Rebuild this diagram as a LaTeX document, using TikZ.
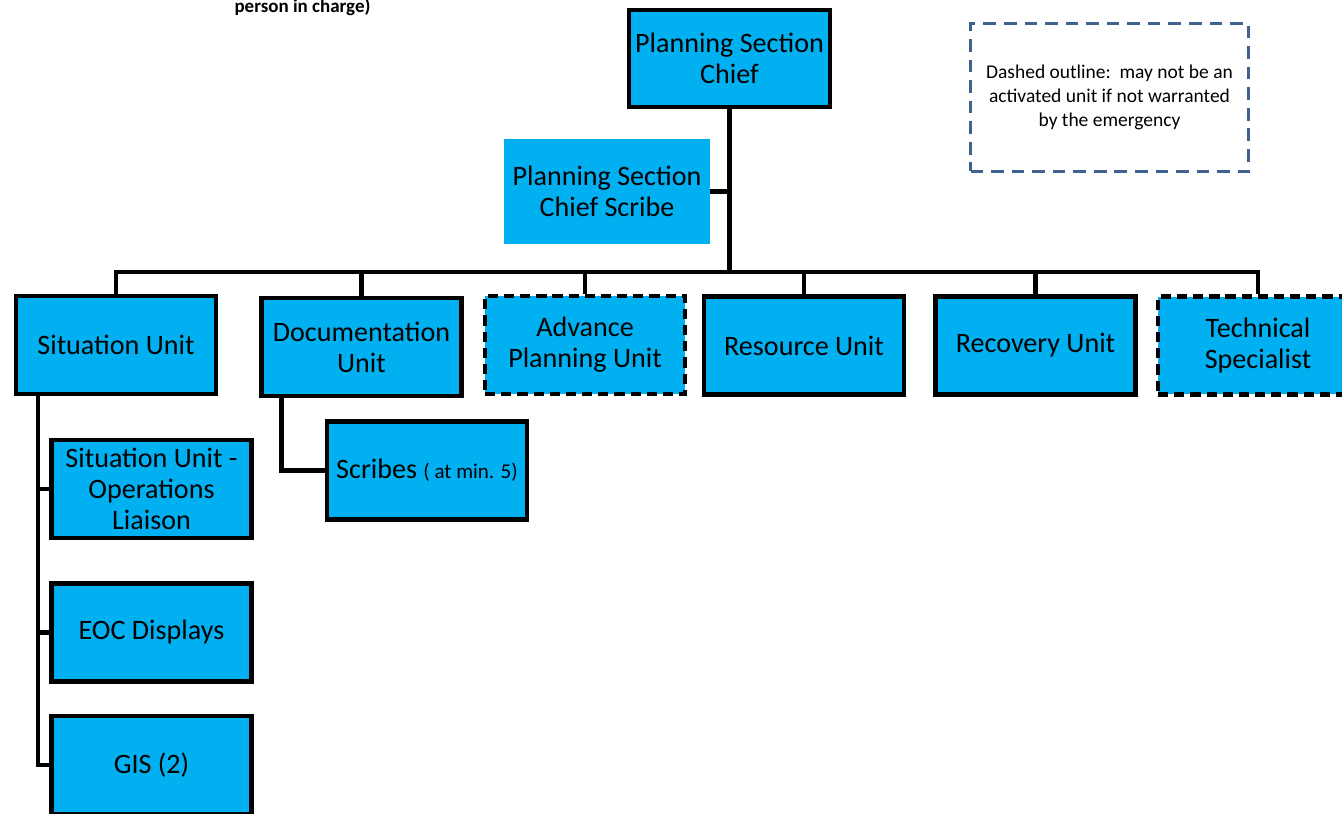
\documentclass[tikz,border=0pt]{standalone}
\usepackage{fontspec}
\setmainfont{Carlito}
\usetikzlibrary{positioning}
\definecolor{unitblue}{HTML}{00B0F0}
\definecolor{legendblue}{HTML}{41618F}
\tikzstyle{unit} = [rectangle, minimum width=4cm, minimum height=1.96cm, text centered, align=center, draw=black, line width=2.5pt, fill=unitblue, font=\fontsize{16}{17.6}\selectfont]
\tikzstyle{optional} = [unit, dash pattern=on 5.8pt off 3.4pt]
\tikzstyle{plain} = [rectangle, minimum width=4.12cm, minimum height=2.1cm, text centered, align=center, fill=unitblue, font=\fontsize{16}{17.6}\selectfont]
\tikzstyle{note} = [rectangle, minimum width=5.56cm, minimum height=2.96cm, align=center, draw=legendblue, line width=1.9pt, dash pattern=on 7.2pt off 4.5pt, font=\fontsize{11.1}{13.6}\selectfont]
\tikzstyle{link} = [line width=2.5pt]

\begin{document}
\begin{tikzpicture}[x=0.02cm, y=-0.02cm]
\useasboundingbox (0,0) rectangle (1342,814);

% Nodes
\node (charge) [anchor=base, font=\fontsize{10.8}{12}\selectfont\bfseries] at (302.5,12.5) {person in charge)};
\node (chief) [unit, minimum width=3.98cm, minimum height=1.94cm] at (729.5,58.5) {Planning Section\\Chief};
\node (chiefscribe) [plain] at (607,191.5) {Planning Section\\Chief Scribe};
\node (legend) [note] at (1109.5,97.5) {Dashed outline:\ \ may not be an\\activated unit if not warranted\\by the emergency};

\node (situation) [unit] at (116,345) {Situation Unit};
\node (documentation) [unit] at (361.5,347) {Documentation\\Unit};
\node (advance) [optional] at (585,345) {Advance\\Planning Unit};
\node (resource) [unit] at (804,345.5) {Resource Unit};
\node (recovery) [unit] at (1035.5,345.5) {Recovery Unit};
\node (technical) [optional] at (1258,345.5) {Technical\\Specialist};

\node (liaison) [unit] at (151.5,489) {Situation Unit -\\Operations\\Liaison};
\node (displays) [unit] at (151.5,632.5) {EOC Displays};
\node (gis) [unit] at (151.5,765) {GIS (2)};
\node (scribes) [unit] at (427,470.5) {Scribes {\fontsize{12}{13}\selectfont( at min. 5)}};

\coordinate (junction) at (729.5,272);
\coordinate (sittop) at (38,395);
\coordinate (doctop) at (281.5,398);

% Arrows
\draw [link] (chief.south) -- (junction);
\draw [link] (chiefscribe.east) -- (chiefscribe.east -| junction);
\draw [link] (situation.north) |- (junction) -| (technical.north);
\draw [link] (documentation.north) -- (documentation.north |- junction);
\draw [link] (advance.north) -- (advance.north |- junction);
\draw [link] (resource.north) -- (resource.north |- junction);
\draw [link] (recovery.north) -- (recovery.north |- junction);

\draw [link] (sittop) |- (gis.west);
\draw [link] (sittop |- liaison.west) -- (liaison.west);
\draw [link] (sittop |- displays.west) -- (displays.west);
\draw [link] (doctop) |- (scribes.west);

\end{tikzpicture}
\end{document}
